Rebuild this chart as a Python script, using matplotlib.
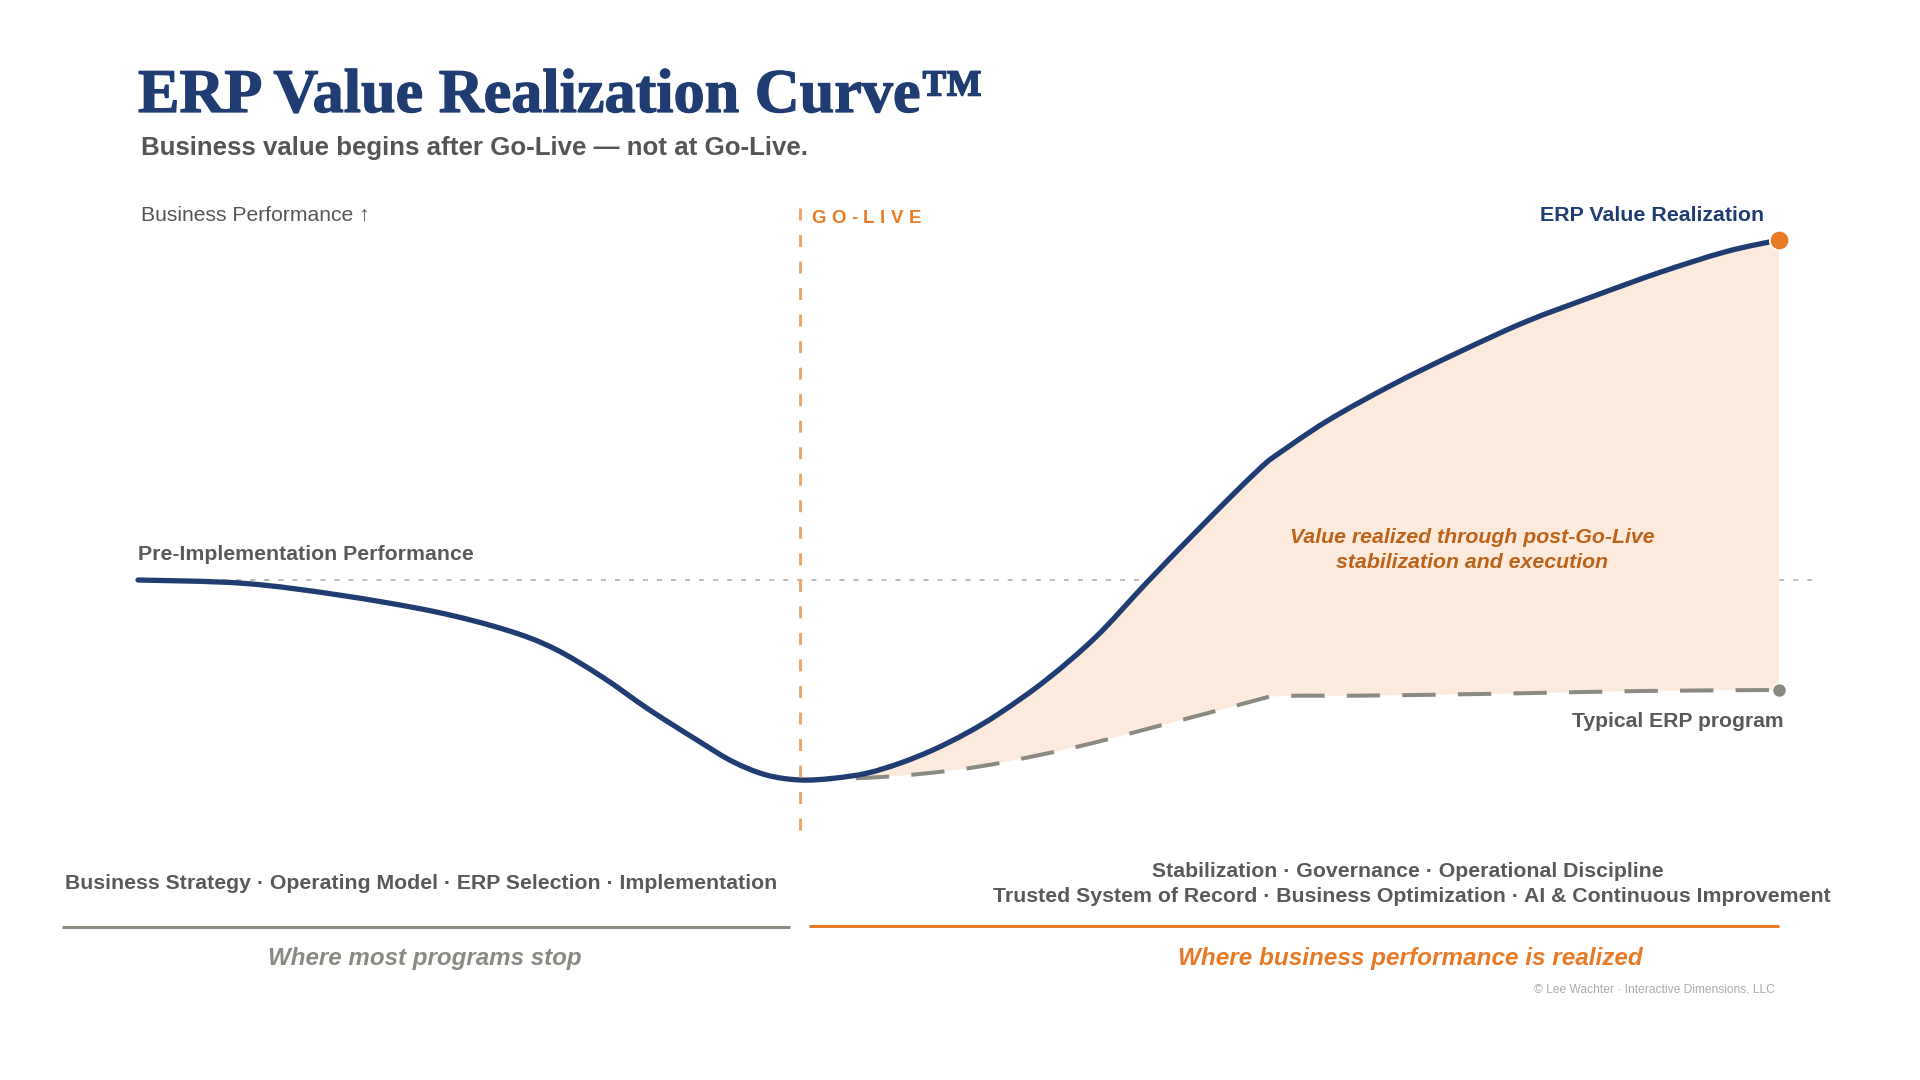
import matplotlib
matplotlib.use("Agg")
import matplotlib.pyplot as plt
import matplotlib.patheffects as pe
import numpy as np
from matplotlib.path import Path
from matplotlib.patches import PathPatch

plt.rcParams['font.family'] = ['Liberation Sans', 'DejaVu Sans']
plt.rcParams['lines.scale_dashes'] = False

# ---------------- data (time index 0-100, performance index) ----------------
erp_t = [0.0, 6.43, 12.24, 18.08, 22.44, 25.33, 28.26, 31.18, 34.22, 36.25, 38.29,
         40.36, 42.34, 44.38, 46.41, 48.44, 50.47, 52.50, 55.34, 58.39, 61.43,
         64.48, 67.52, 68.94, 72.39, 76.45, 80.51, 84.57, 88.63, 92.69, 96.75,
         100.0]
erp_v = [100.0, 99.5, 97.75, 95.25, 92.5, 89.75, 85.5, 80.5, 75.75, 72.75, 70.75,
         70.0, 70.25, 71.0, 72.5, 74.5, 77.0, 80.0, 85.0, 91.5, 99.5,
         107.25, 114.75, 118.0, 123.74, 129.3, 134.2, 138.74, 142.5, 146.1, 149.24,
         151.0]

typical_t = [40.36, 44.58, 48.03, 51.48, 54.93, 58.28, 61.63, 64.98, 68.94,
             70.77, 74.48, 83.04, 91.58, 100.0]
typical_v = [70.0, 70.35, 71.0, 72.1, 73.75, 75.6, 77.75, 79.9, 82.5,
             82.65, 82.65, 82.95, 83.35, 83.5]

go_live_t = 40.36
transition_t = 68.94   # where the curves change slope (stabilisation reached)
baseline_v = 100.0

title = "ERP Value Realization Curve\u2122"
subtitle = "Business value begins after Go-Live \u2014 not at Go-Live."
y_label = "Business Performance \u2191"
go_live_label = "GO-LIVE"
erp_label = "ERP Value Realization"
typical_label = "Typical ERP program"
baseline_label = "Pre-Implementation Performance"
annotation = "Value realized through post-Go-Live\nstabilization and execution"
left_phases = "Business Strategy \u00b7 Operating Model \u00b7 ERP Selection \u00b7 Implementation"
right_phases_1 = "Stabilization \u00b7 Governance \u00b7 Operational Discipline"
right_phases_2 = ("Trusted System of Record \u00b7 Business Optimization \u00b7 "
                  "AI & Continuous Improvement")
left_caption = "Where most programs stop"
right_caption = "Where business performance is realized"
copyright_text = "\u00a9 Lee Wachter \u00b7 Interactive Dimensions, LLC"

# ---------------- style ----------------
NAVY = '#1F3D73'
ORANGE = '#E87A26'
GOLIVE = '#F0A05E'
GRAY_LINE = '#8B8A82'
TEXT_GRAY = '#595959'
ANNOT = '#BD6319'
FILL = '#FCEADD'
DOTTED = '#B5B5AE'

W, H = 1920, 1080
fig = plt.figure(figsize=(19.2, 10.8), dpi=100)
fig.patch.set_facecolor('white')

ax = fig.add_axes([138 / W, 1 - 860 / H, 1641 / W, 660 / H])
ax.set_xlim(0, 100)
ax.set_ylim(58, 157)
ax.axis('off')


def bezier_segments(xs, ys, corners=()):
    """Smooth (Catmull-Rom style) cubic segments through the data points."""
    P = np.column_stack([xs, ys]).astype(float)
    n = len(P)
    segs = []
    for i in range(n - 1):
        p1, p2 = P[i], P[i + 1]
        p0 = P[i - 1] if (i > 0 and i not in corners) else p1
        p3 = P[i + 2] if (i + 2 < n and (i + 1) not in corners) else p2
        c1 = p1 + (p2 - p0) / 6.0
        c2 = p2 - (p3 - p1) / 6.0
        segs.append((p1, c1, c2, p2))
    return segs


def segs_path(segs):
    verts = [segs[0][0]]
    codes = [Path.MOVETO]
    for _, c1, c2, p3 in segs:
        verts += [c1, c2, p3]
        codes += [Path.CURVE4] * 3
    return Path(verts, codes)


erp_corner = [erp_t.index(transition_t)]
typ_corner = [typical_t.index(transition_t)]
erp_segs = bezier_segments(erp_t, erp_v, erp_corner)
typ_segs = bezier_segments(typical_t, typical_v, typ_corner)

# fill region: ERP curve after go-live, back along the typical program curve
g = erp_t.index(go_live_t)
fverts = [erp_segs[g][0]]
fcodes = [Path.MOVETO]
for _, c1, c2, p3 in erp_segs[g:]:
    fverts += [c1, c2, p3]
    fcodes += [Path.CURVE4] * 3
fverts.append(typ_segs[-1][3])
fcodes.append(Path.LINETO)
for p0, c1, c2, p3 in reversed(typ_segs):
    fverts += [c2, c1, p0]
    fcodes += [Path.CURVE4] * 3
fverts.append(fverts[0])
fcodes.append(Path.CLOSEPOLY)

# baseline (pre-implementation level)
ax.plot([0, 102], [baseline_v, baseline_v], color=DOTTED, lw=1.3,
        ls=(0, (3.6, 6.5)), clip_on=False, zorder=1)
# value gap fill
ax.add_patch(PathPatch(Path(fverts, fcodes), facecolor=FILL, edgecolor='none',
                       lw=0, zorder=2, clip_on=False))
# typical program
p_typ = PathPatch(segs_path(typ_segs), facecolor='none', edgecolor=GRAY_LINE,
                  lw=2.9, linestyle=(0, (24, 16)), zorder=3, clip_on=False)
p_typ.set_capstyle('butt')
ax.add_patch(p_typ)
# ERP value realization curve
p_erp = PathPatch(segs_path(erp_segs), facecolor='none', edgecolor=NAVY,
                  lw=3.8, zorder=4, clip_on=False)
p_erp.set_capstyle('round')
p_erp.set_joinstyle('round')
ax.add_patch(p_erp)
# go-live marker line
ax.plot([go_live_t, go_live_t], [155.8, 60.7], color=GOLIVE, lw=2.0,
        ls=(0, (8.6, 10.5)), zorder=5, clip_on=False)
# end points
ax.plot([erp_t[-1]], [erp_v[-1]], 'o', ms=14, color=ORANGE, mec='white',
        mew=1.2, zorder=6, clip_on=False)
ax.plot([typical_t[-1]], [typical_v[-1]], 'o', ms=10, color=GRAY_LINE,
        mec='white', mew=1.0, zorder=6, clip_on=False)

# phase divider rules (below the chart)
ax.plot([-4.65, 39.73], [47.95, 47.95], color=GRAY_LINE, lw=2.2,
        solid_capstyle='butt', clip_on=False)
ax.plot([40.91, 100], [48.05, 48.05], color=ORANGE, lw=2.2,
        solid_capstyle='butt', clip_on=False)

# ---------------- text ----------------
fit = []


def ftext(x, y, s, size, target=None, **kw):
    t = fig.text(x / W, 1 - y / H, s, fontsize=size, **kw)
    if target:
        fit.append((t, target))
    return t


ttl = ftext(138, 112, title, 42, target=846,
            family=['Liberation Serif', 'DejaVu Serif'],
            weight='bold', color=NAVY, va='baseline')
ttl.set_path_effects([pe.withStroke(linewidth=0.9, foreground=NAVY)])
ftext(141, 155, subtitle, 15, target=669, weight='bold', color='#555555', va='baseline')
ftext(141, 221, y_label, 12, target=230, color='#555555', va='baseline')
ftext(1764, 221, erp_label, 14, target=224, weight='bold', color=NAVY,
      ha='right', va='baseline')
ftext(138, 560, baseline_label, 14, target=335, weight='bold', color=TEXT_GRAY,
      va='baseline')
ftext(1783, 727, typical_label, 14, target=212, weight='bold', color=TEXT_GRAY,
      ha='right', va='baseline')
a1, a2 = annotation.split('\n')
ftext(1472, 543, a1, 14, target=366, weight='bold', style='italic', color=ANNOT,
      ha='center', va='baseline')
ftext(1472, 568, a2, 14, weight='bold', style='italic', color=ANNOT,
      ha='center', va='baseline')
ftext(421, 889, left_phases, 14, target=714, weight='bold', color=TEXT_GRAY,
      ha='center', va='baseline')
ftext(1408, 877, right_phases_1, 14, target=513, weight='bold', color=TEXT_GRAY,
      ha='center', va='baseline')
ftext(1411.5, 902, right_phases_2, 14, target=837, weight='bold', color=TEXT_GRAY,
      ha='center', va='baseline')
ftext(425, 965, left_caption, 16, target=314, weight='bold', style='italic',
      color=GRAY_LINE, ha='center', va='baseline')
ftext(1410.5, 965, right_caption, 16, target=463, weight='bold', style='italic',
      color=ORANGE, ha='center', va='baseline')
ftext(1775, 993, copyright_text, 8, target=242, color='#ABABAB',
      ha='right', va='baseline')

fig.canvas.draw()
r = fig.canvas.get_renderer()
sizes = {}
for t, tw in fit:
    w = t.get_window_extent(r).width
    t.set_fontsize(t.get_fontsize() * tw / w)
    sizes[t.get_text()] = t.get_fontsize()
for t in fig.texts:
    if t.get_text() == a2:
        t.set_fontsize(sizes[a1])

# letter-spaced GO-LIVE label
gl_x0, gl_x1, gl_base, gl_size = 811, 921, 223, 13.4
chars = []
for ch in go_live_label:
    chars.append(fig.text(0, 1 - gl_base / H, ch, fontsize=gl_size, weight='bold',
                          color=ORANGE, va='baseline'))
fig.canvas.draw()
widths = [c.get_window_extent(r).width for c in chars]
track = (gl_x1 - gl_x0 - sum(widths)) / (len(chars) - 1)
x = gl_x0
for c, w in zip(chars, widths):
    c.set_x(x / W)
    x += w + track

fig.savefig('out.png', dpi=100, facecolor='white')
